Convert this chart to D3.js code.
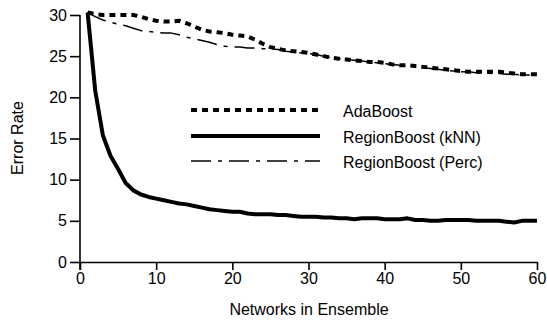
<!DOCTYPE html>
<html><head><meta charset="utf-8">
<script src="https://cdn.jsdelivr.net/npm/d3@7"></script>
<style>body{margin:0;background:#fff}svg{display:block}text{font-family:"Liberation Sans",Arial,sans-serif;fill:#000}</style>
</head><body><svg id="c" width="547" height="321"></svg>
<script>
const xTicks = [0,10,20,30,40,50,60];
const yTicks = [0,5,10,15,20,25,30];
const networks = d3.range(1,61);
const adaBoost = [30.3,30.1,30.0,30.0,30.0,30.0,30.0,29.8,29.5,29.3,29.2,29.2,29.3,29.0,28.6,28.2,28.0,27.9,27.8,27.6,27.5,27.4,27.0,26.5,26.1,25.9,25.7,25.6,25.5,25.4,25.2,25.0,24.8,24.7,24.6,24.5,24.4,24.3,24.3,24.2,24.0,23.9,23.9,23.8,23.7,23.6,23.5,23.4,23.3,23.2,23.1,23.1,23.1,23.1,23.1,23.0,22.9,22.8,22.8,22.8];
const regionKNN = [30.3,20.8,15.4,12.9,11.3,9.6,8.7,8.2,7.9,7.7,7.5,7.3,7.1,7.0,6.8,6.6,6.4,6.3,6.2,6.1,6.1,5.9,5.8,5.8,5.8,5.7,5.7,5.6,5.5,5.5,5.5,5.4,5.4,5.3,5.3,5.2,5.3,5.3,5.3,5.2,5.2,5.2,5.3,5.1,5.1,5.0,5.0,5.1,5.1,5.1,5.1,5.0,5.0,5.0,5.0,4.9,4.8,5.0,5.0,5.0];
const regionPerc = [30.3,29.8,29.4,29.1,28.9,28.7,28.4,28.1,28.0,27.9,27.8,27.8,27.6,27.3,27.1,26.9,26.7,26.4,26.2,26.1,26.1,26.0,26.0,25.9,25.9,25.8,25.6,25.5,25.4,25.3,25.2,25.0,24.8,24.7,24.6,24.5,24.4,24.3,24.2,24.1,24.0,23.9,23.8,23.7,23.6,23.5,23.4,23.3,23.2,23.1,23.1,23.0,23.0,22.9,22.9,22.8,22.8,22.7,22.7,22.7];
const seriesNames = ["AdaBoost","RegionBoost (kNN)","RegionBoost (Perc)"];

const svg = d3.select("#c");
const x = d3.scaleLinear().domain([0,60]).range([80,537]);
const y = d3.scaleLinear().domain([0,30]).range([262,15]);
const FS = 16;

const styles = [
  {w:4, dash:"6,5"},
  {w:4, dash:null},
  {w:1.5, dash:"20,7,4,7"}
];
const data = [adaBoost, regionKNN, regionPerc];

const line = d3.line().x((d,i)=>x(networks[i])).y(d=>y(d));
data.forEach((s,k)=>{
  svg.append("path").datum(s).attr("d",line).attr("fill","none")
    .attr("stroke","#000").attr("stroke-width",styles[k].w)
    .attr("stroke-dasharray",styles[k].dash).attr("stroke-linejoin","round");
});

const xa = svg.append("g").attr("transform","translate(0,262)")
  .call(d3.axisBottom(x).tickValues(xTicks).tickSize(8).tickPadding(3).tickSizeOuter(0));
const ya = svg.append("g").attr("transform","translate(80,0)")
  .call(d3.axisLeft(y).tickValues(yTicks).tickSize(10).tickPadding(3).tickSizeOuter(0));
[xa,ya].forEach(a=>{
  a.select(".domain").attr("stroke","#000").attr("stroke-width",1.6);
  a.selectAll(".tick line").attr("stroke","#000").attr("stroke-width",1.6);
  a.selectAll(".tick text").attr("font-size",FS).attr("font-family",null);
});
ya.select(".domain").attr("d","M0,15V270");

svg.append("text").attr("x",309).attr("y",315).attr("text-anchor","middle")
  .attr("font-size",FS).text("Networks in Ensemble");
svg.append("text").attr("transform","translate(23,138) rotate(-90)").attr("text-anchor","middle")
  .attr("font-size",FS).text("Error Rate");

const ly = [110,136,161];
seriesNames.forEach((n,k)=>{
  svg.append("line").attr("x1",191).attr("x2",320).attr("y1",ly[k]).attr("y2",ly[k])
    .attr("stroke","#000").attr("stroke-width",styles[k].w).attr("stroke-dasharray",styles[k].dash);
  svg.append("text").attr("x",343).attr("y",ly[k]+7).attr("font-size",FS).text(n);
});
</script></body></html>
